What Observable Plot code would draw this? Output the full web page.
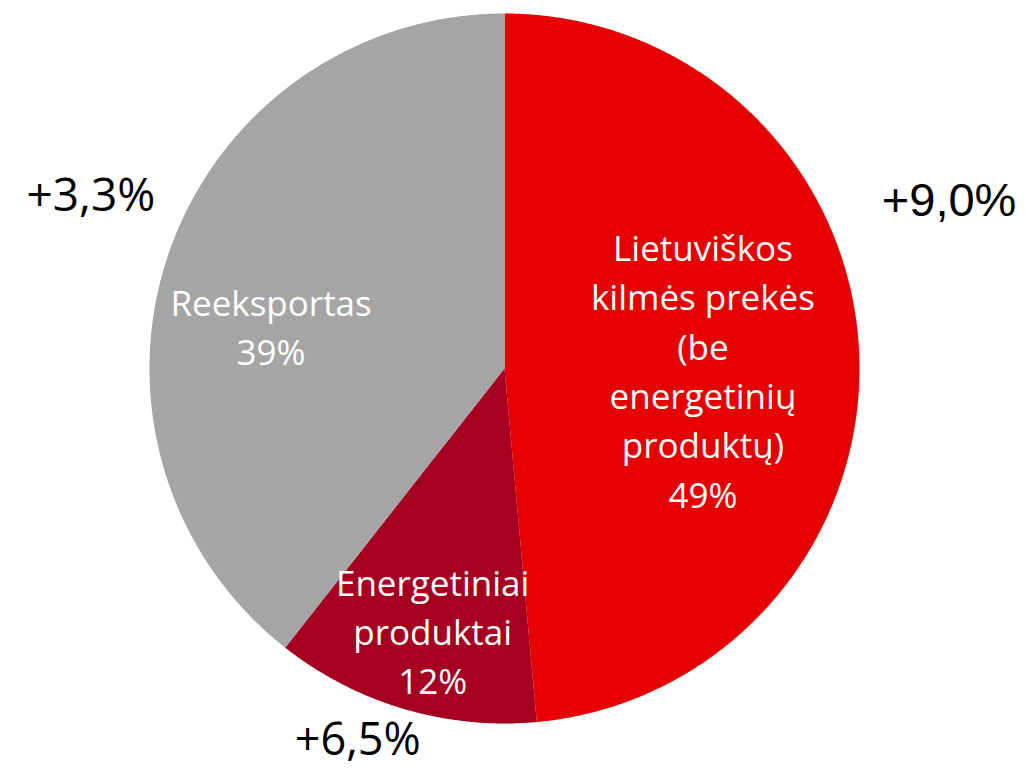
<!DOCTYPE html>
<html>
<head>
<meta charset="utf-8">
<script src="https://cdn.jsdelivr.net/npm/d3@7"></script>
<script src="https://cdn.jsdelivr.net/npm/@observablehq/plot@0.6"></script>
<style>
  html, body { margin: 0; padding: 0; background: #ffffff; }
  #chart svg { display: block; }
</style>
</head>
<body>
<div id="chart"></div>
<script>
// ---- data ----
const categories = [
  "Lietuviškos kilmės prekės (be energetinių produktų)",
  "Energetiniai produktai",
  "Reeksportas"
];
const shares = [48.55, 12.05, 39.4];
const labelNames = [
  "Lietuviškos\nkilmės prekės\n(be\nenergetinių\nproduktų)",
  "Energetiniai\nproduktai",
  "Reeksportas"
];
const growth = ["+9,0%", "+6,5%", "+3,3%"];

// ---- styles & layout (not data) ----
const colors = ["#E60000", "#A50021", "#A5A5A5"];
// polar anchors: [angle in degrees clockwise from 12 o'clock, radius fraction]
const innerLabelPos = [[90, 0.559], [195.4, 0.762], [280.6, 0.669]];
const outerLabelPos = [[69.4, 1.338], [201.5, 1.128], [292.6, 1.262]];
const outerFonts = ["Liberation Sans, Arial, sans-serif", "Open Sans, sans-serif", "Open Sans, sans-serif"];
const outerSizes = [47, 45, 46];

const polar = (deg, r) => {
  const t = deg * Math.PI / 180;
  return [r * Math.sin(t), r * Math.cos(t)];
};

const arcs = d3.pie().sort(null).value(d => d)(shares);
const slices = arcs.map((a, i) => {
  const n = Math.max(4, Math.ceil((a.endAngle - a.startAngle) / 0.005));
  const ring = [[0, 0]];
  for (let k = 0; k <= n; ++k) {
    const t = a.startAngle + (a.endAngle - a.startAngle) * k / n;
    ring.push([Math.sin(t), Math.cos(t)]);
  }
  ring.push([0, 0]);
  return {
    type: "Feature",
    properties: {category: categories[i]},
    geometry: {type: "Polygon", coordinates: [ring]}
  };
});

const innerLabels = categories.map((c, i) => {
  const [x, y] = polar(...innerLabelPos[i]);
  return {x, y, text: labelNames[i] + "\n" + Math.round(shares[i]) + "%"};
});
const outerLabels = categories.map((c, i) => {
  const [x, y] = polar(...outerLabelPos[i]);
  return {x, y, text: growth[i], font: outerFonts[i], size: outerSizes[i]};
});

const chart = Plot.plot({
  width: 1025,
  height: 768,
  margin: 0,
  projection: {
    type: "reflect-y",
    domain: {type: "FeatureCollection", features: slices},
    insetLeft: 148,
    insetRight: 165,
    insetTop: 13,
    insetBottom: 45
  },
  color: {domain: categories, range: colors},
  marks: [
    Plot.geo(slices, {fill: d => d.properties.category, stroke: "none"}),
    Plot.text(innerLabels, {
      x: "x", y: "y", text: "text",
      fill: "white", fontSize: 35, lineHeight: 1.41,
      fontFamily: "Open Sans, sans-serif", textAnchor: "middle"
    }),
    ...outerLabels.map(d => Plot.text([d], {
      x: "x", y: "y", text: "text",
      fill: "black", fontSize: d.size, fontFamily: d.font, textAnchor: "middle"
    }))
  ]
});
document.getElementById("chart").appendChild(chart);
</script>
</body>
</html>
